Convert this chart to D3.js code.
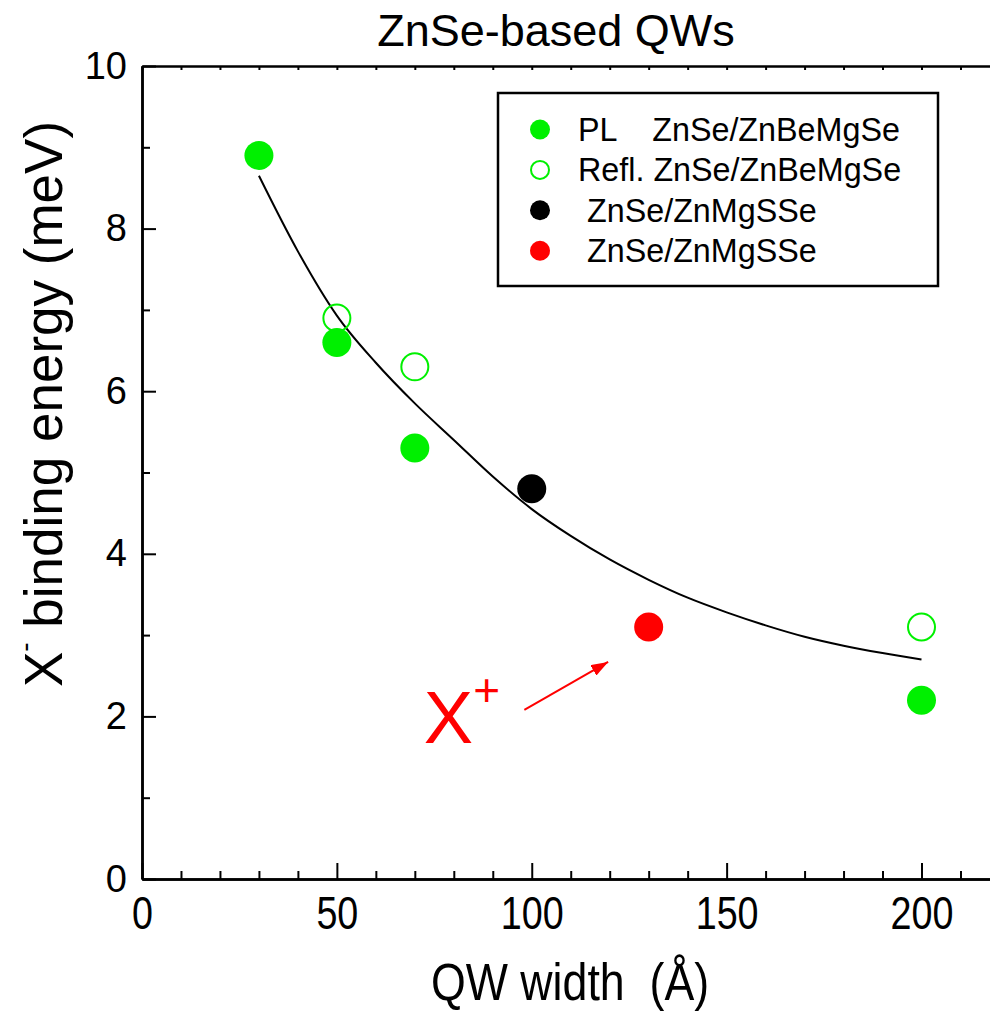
<!DOCTYPE html>
<html>
<head>
<meta charset="utf-8">
<script src="https://cdn.jsdelivr.net/npm/d3@7"></script>
<style>
  body { margin: 0; background: #fff; }
  svg { display: block; font-family: "Liberation Sans", Arial, sans-serif; }
</style>
</head>
<body>
<div id="root"></div>
<script>
// data
const plX = [30, 50, 70, 200];
const plY = [8.9, 6.6, 5.3, 2.2];
const reflX = [50, 70, 200];
const reflY = [6.9, 6.3, 3.1];
const mgsX = [100];
const mgsY = [4.8];
const xplusX = [130];
const xplusY = [3.1];

// fitted curve, read at every 10 Å
const fitX = [30, 40, 50, 60, 70, 80, 90, 100, 110, 120, 130, 140, 150, 160, 170, 180, 190, 200];
const fitY = [8.65, 7.72, 6.93, 6.35, 5.85, 5.4, 4.95, 4.55, 4.22, 3.93, 3.68, 3.46, 3.28, 3.12, 2.98, 2.87, 2.78, 2.7];

const xMajor = [0, 50, 100, 150, 200];
const yMajor = [0, 2, 4, 6, 8, 10];

const legendLabels = ["PL    ZnSe/ZnBeMgSe", "Refl. ZnSe/ZnBeMgSe", " ZnSe/ZnMgSSe", " ZnSe/ZnMgSSe"];

const GREEN = "#00f000", RED = "#ff0000", BLACK = "#000";

const W = 990, H = 1011;
const mLeft = 142, mTop = 66, mBottom = 879;

const svg = d3.select("#root").append("svg")
  .attr("width", W).attr("height", H);

const x = d3.scaleLinear().domain([0, 218]).range([mLeft, mLeft + 218 * 3.8975]);
const y = d3.scaleLinear().domain([0, 10]).range([mBottom, mTop]);

// axes
const axes = svg.append("g");

// bottom major
const bx = axes.append("g")
  .attr("transform", `translate(0,${mBottom})`)
  .call(d3.axisBottom(x).tickValues(xMajor).tickSize(-16).tickPadding(17).tickSizeOuter(0));
// bottom minor
axes.append("g")
  .attr("transform", `translate(0,${mBottom})`)
  .call(d3.axisBottom(x).tickValues(d3.range(10, 220, 10).filter(v => v % 50)).tickSize(-8).tickFormat("").tickSizeOuter(0));
// top line with small ticks
axes.append("g")
  .attr("transform", `translate(0,${mTop})`)
  .call(d3.axisTop(x).tickValues(d3.range(0, 220, 10)).tickSize(-4).tickFormat("").tickSizeOuter(0));
// left major
const ly = axes.append("g")
  .attr("transform", `translate(${mLeft},0)`)
  .call(d3.axisLeft(y).tickValues(yMajor).tickSize(-14).tickPadding(15).tickSizeOuter(0));
// left minor
axes.append("g")
  .attr("transform", `translate(${mLeft},0)`)
  .call(d3.axisLeft(y).tickValues([1, 3, 5, 7, 9]).tickSize(-8).tickFormat("").tickSizeOuter(0));

axes.selectAll(".domain").attr("stroke", "#000").attr("stroke-width", 2.5);
axes.selectAll(".tick line").attr("stroke", "#000").attr("stroke-width", 2);

bx.selectAll("text")
  .attr("font-size", 46)
  .attr("font-family", "Liberation Sans, Arial, sans-serif")
  .attr("fill", "#000")
  .attr("transform", "scale(0.82,1)");

ly.selectAll("text")
  .attr("font-size", 38)
  .attr("font-family", "Liberation Sans, Arial, sans-serif")
  .attr("fill", "#000");

// titles
svg.append("text")
  .attr("x", 556).attr("y", 46)
  .attr("text-anchor", "middle")
  .attr("font-size", 45)
  .text("ZnSe-based QWs");

svg.append("text")
  .attr("transform", "translate(570,1000) scale(0.86,1)")
  .attr("text-anchor", "middle")
  .attr("font-size", 52)
  .style("white-space", "pre")
  .text("QW width  (Å)");

const yt = svg.append("text")
  .attr("transform", "translate(62,404) rotate(-90)")
  .attr("text-anchor", "middle")
  .attr("font-size", 53);
yt.append("tspan").text("X");
yt.append("tspan").attr("dy", -28).attr("font-size", 28).text("-");
yt.append("tspan").attr("dy", 28).text(" binding energy (meV)");

// fit curve
const fit = fitX.map((v, i) => [v, fitY[i]]);
svg.append("path")
  .datum(fit)
  .attr("fill", "none")
  .attr("stroke", "#000")
  .attr("stroke-width", 2)
  .attr("d", d3.line().x(d => x(d[0])).y(d => y(d[1])).curve(d3.curveMonotoneX));

// points
const R = 14.5;
function dots(xs, ys, fill, stroke) {
  svg.append("g").selectAll("circle")
    .data(xs.map((v, i) => [v, ys[i]]))
    .enter().append("circle")
    .attr("cx", d => x(d[0]))
    .attr("cy", d => y(d[1]))
    .attr("r", stroke ? R - 1 : R)
    .attr("fill", fill)
    .attr("stroke", stroke || "none")
    .attr("stroke-width", 2);
}
dots(plX, plY, GREEN);
dots(reflX, reflY, "none", GREEN);
dots(mgsX, mgsY, BLACK);
dots(xplusX, xplusY, RED);

// X+ annotation with arrow
svg.append("defs").append("marker")
  .attr("id", "arr")
  .attr("viewBox", "0 0 10 10")
  .attr("refX", 10).attr("refY", 5)
  .attr("markerWidth", 17).attr("markerHeight", 12)
  .attr("markerUnits", "userSpaceOnUse")
  .attr("orient", "auto")
  .attr("preserveAspectRatio", "none")
  .append("path").attr("d", "M0,0 L10,5 L0,10 z").attr("fill", RED);

svg.append("line")
  .attr("x1", x(98.1)).attr("y1", y(2.08))
  .attr("x2", x(119.6)).attr("y2", y(2.67))
  .attr("stroke", RED).attr("stroke-width", 2)
  .attr("marker-end", "url(#arr)");

const xp = svg.append("text")
  .attr("x", x(72.3)).attr("y", y(1.67))
  .attr("fill", RED)
  .attr("font-size", 74);
xp.append("tspan").text("X");
xp.append("tspan").attr("dy", -37).attr("font-size", 46).text("+");

// legend
const lg = svg.append("g");
lg.append("rect")
  .attr("x", 498).attr("y", 93).attr("width", 440).attr("height", 193)
  .attr("fill", "#fff").attr("stroke", "#000").attr("stroke-width", 2.5);

const legendStyle = [
  { fill: GREEN, stroke: null },
  { fill: "none", stroke: GREEN },
  { fill: BLACK, stroke: null },
  { fill: RED, stroke: null }
];
const rows = lg.selectAll("g.row")
  .data(legendLabels)
  .enter().append("g")
  .attr("class", "row")
  .attr("transform", (d, i) => `translate(540,${129.5 + i * 40.4})`);
rows.append("circle")
  .attr("r", (d, i) => legendStyle[i].stroke ? 9 : 10)
  .attr("fill", (d, i) => legendStyle[i].fill)
  .attr("stroke", (d, i) => legendStyle[i].stroke || "none")
  .attr("stroke-width", 2);
rows.append("text")
  .attr("x", 38).attr("y", 11.5)
  .attr("font-size", 32.3)
  .style("white-space", "pre")
  .text(d => d);
</script>
</body>
</html>
